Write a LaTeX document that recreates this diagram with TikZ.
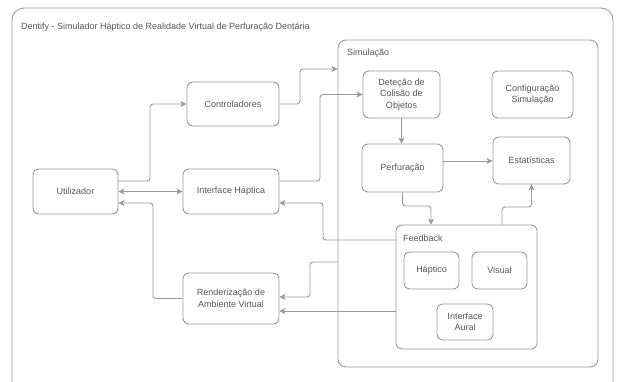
\documentclass[tikz,border=0pt]{standalone}
\usepackage{fontspec}
\setmainfont{Liberation Sans}
\usetikzlibrary{arrows.meta}
\definecolor{ln}{HTML}{999999}
\definecolor{tx}{HTML}{555555}
\tikzset{
  box/.style={draw=ln, line width=0.9pt, rounded corners=6pt, align=center, text=tx, inner sep=1pt},
  cont/.style={draw=ln, line width=0.9pt, rounded corners=8pt},
  lbl/.style={text=tx, anchor=west, inner sep=0pt},
  arr/.style={draw=ln, line width=0.9pt, rounded corners=3pt, -{Stealth[length=6pt,width=6pt,inset=1.5pt]}},
  darr/.style={draw=ln, line width=0.9pt, {Stealth[length=6pt,width=6pt,inset=1.5pt]}-{Stealth[length=6pt,width=6pt,inset=1.5pt]}},
}
\begin{document}
\begin{tikzpicture}[x=1pt,y=-1pt,font=\fontsize{9}{11.5}\selectfont]
\useasboundingbox (0,0) rectangle (617,381);
\begin{scope}
\clip (0,0) rectangle (617,381);
\draw[cont, rounded corners=12pt] (12,8) rectangle (613,395);
\end{scope}
\node[lbl] (title) at (21,27) {Dentify - Simulador Háptico de Realidade Virtual de Perfuração Dentária};

% containers
\node[cont, minimum width=260pt, minimum height=327pt] (sim) at (468,203.5) {};
\node[lbl] (simlbl) at (347,53) {Simulação};
\node[cont, rounded corners=6pt, minimum width=141pt, minimum height=124pt] (fb) at (466.5,287) {};
\node[lbl] (fblbl) at (403,238) {Feedback};

% boxes
\node[box, minimum width=85pt, minimum height=45pt] (util) at (75.5,191.5) {Utilizador};
\node[box, minimum width=92pt, minimum height=44pt] (ctrl) at (233,104) {Controladores};
\node[box, minimum width=96pt, minimum height=45pt] (ih) at (231,191.5) {Interface Háptica};
\node[box, minimum width=96pt, minimum height=51pt] (rend) at (231,298.5) {Renderização de\\Ambiente Virtual};
\node[box, minimum width=77pt, minimum height=47pt] (det) at (401.5,94.5) {Deteção de\\Colisão de\\Objetos};
\node[box, minimum width=81pt, minimum height=47pt] (conf) at (532.5,94.5) {Configuração\\Simulação};
\node[box, minimum width=81pt, minimum height=48pt] (perf) at (402.5,168) {Perfuração};
\node[box, minimum width=77pt, minimum height=47pt] (est) at (531.5,160.5) {Estatísticas};
\node[box, minimum width=55pt, minimum height=37pt] (hap) at (431.5,270.5) {Háptico};
\node[box, minimum width=55pt, minimum height=37pt] (vis) at (499.5,270.5) {Visual};
\node[box, minimum width=56pt, minimum height=36pt] (aural) at (465,322) {Interface\\Aural};

% connectors
\draw[arr] (util.east |- 0,181) -- (150,181) -- (150,104) -- (ctrl.west);
\draw[darr] (util.east) -- (ih.west);
\draw[arr] (rend.west) -- (153,298.5) -- (153,203) -- (util.east |- 0,203);
\draw[arr] (ctrl.east) -- (300,104) -- (300,69) -- (sim.west |- 0,69);
\draw[arr] (ih.east |- 0,181) -- (320,181) -- (320,94.5) -- (det.west);
\draw[arr] (fb.west |- 0,240) -- (323,240) -- (323,203) -- (ih.east |- 0,203);
\draw[arr] (sim.west |- 0,262) -- (310,262) -- (310,297) -- (rend.east |- 0,297);
\draw[arr] (fb.west |- 0,311) -- (rend.east |- 0,311);
\draw[arr] (det.south) -- (det.south |- perf.north);
\draw[arr] (perf.east |- 0,161) -- (est.west |- 0,161);
\draw[arr] (perf.south) -- (402.5,206) -- (431,206) -- (fb.north -| 431,0);
\draw[arr] (fb.north -| 502,0) -- (502,207) -- (531.5,207) -- (est.south);
\end{tikzpicture}
\end{document}
